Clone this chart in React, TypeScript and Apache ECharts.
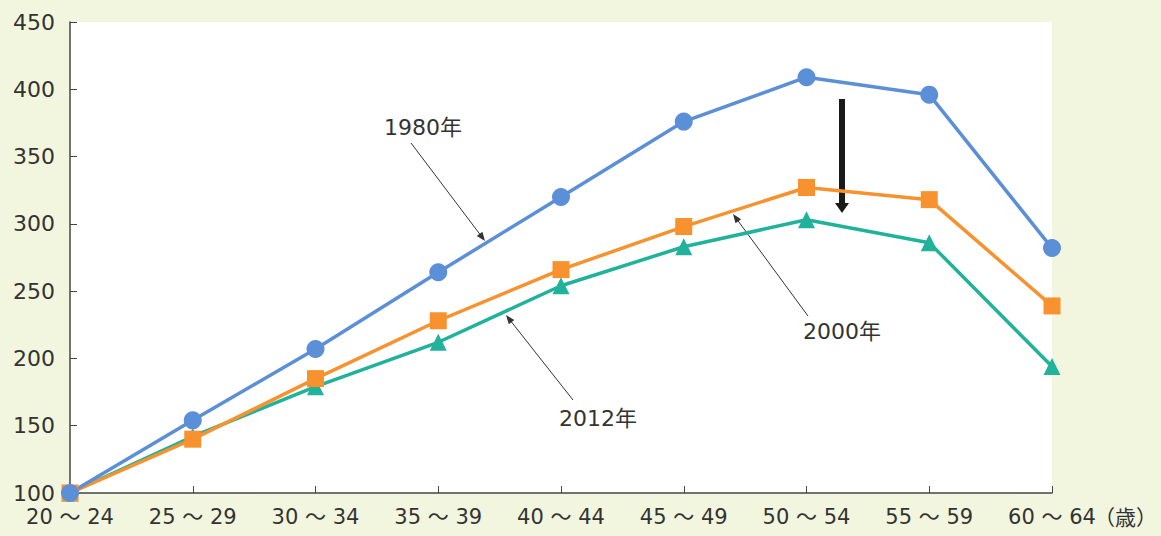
import React, { useEffect, useRef } from "react";
import * as echarts from "echarts";

const categories = ["20～24", "25～29", "30～34", "35～39", "40～44", "45～49", "50～54", "55～59", "60～64"];
const s1980 = [100, 154, 207, 264, 320, 376, 409, 396, 282];
const s2000 = [100, 140, 185, 228, 266, 298, 327, 318, 239];
const s2012 = [100, 142, 179, 212, 254, 283, 303, 286, 194];
const yTicks = { min: 100, max: 450, interval: 50 };

const FONT = "'DejaVu Sans', 'Noto Sans CJK JP', sans-serif";
const TXT = "#333333";

function arrow(x1: number, y1: number, x2: number, y2: number, color: string, lw: number, hl: number, hw: number) {
  const dx = x2 - x1, dy = y2 - y1;
  const len = Math.sqrt(dx * dx + dy * dy);
  const ux = dx / len, uy = dy / len;
  const bx = x2 - ux * hl, by = y2 - uy * hl;
  const px = -uy * hw, py = ux * hw;
  return [
    { type: "line", silent: true, shape: { x1, y1, x2: bx + ux * 1, y2: by + uy * 1 }, style: { stroke: color, lineWidth: lw } },
    { type: "polygon", silent: true, shape: { points: [[x2, y2], [bx + px, by + py], [bx - px, by - py]] }, style: { fill: color } },
  ];
}

function label(text: string, x: number, y: number) {
  return {
    type: "text",
    x,
    y,
    style: { text, fill: TXT, font: `22px ${FONT}`, textAlign: "center", textVerticalAlign: "middle" },
  };
}

export default function App() {
  const ref = useRef<HTMLDivElement>(null);
  useEffect(() => {
    document.body.style.margin = "0";
    const chart = echarts.init(ref.current!, undefined, { renderer: "svg" });
    const mk = (name: string, data: number[], color: string, symbol: string, size: number) => ({
      name,
      type: "line",
      data,
      symbol,
      symbolSize: size,
      lineStyle: { color, width: 3.5 },
      itemStyle: { color },
      z: 3,
    });
    chart.setOption({
      animation: false,
      backgroundColor: "#f2f6df",
      grid: { left: 70, right: 109, top: 22, bottom: 43, show: true, backgroundColor: "#ffffff", borderWidth: 0 },
      xAxis: {
        type: "category",
        data: categories,
        boundaryGap: false,
        axisLine: { lineStyle: { color: "#444", width: 1.5 } },
        axisTick: { inside: true, length: 7, lineStyle: { color: "#444" } },
        axisLabel: {
          color: TXT,
          fontSize: 21,
          fontFamily: FONT,
          margin: 13,
          formatter: (v: string) => v.replace("～", " ～ "),
        },
      },
      yAxis: {
        type: "value",
        min: yTicks.min,
        max: yTicks.max,
        interval: yTicks.interval,
        axisLine: { show: true, lineStyle: { color: "#444", width: 1.5 } },
        axisTick: { show: true, inside: true, length: 7, lineStyle: { color: "#444" } },
        splitLine: { show: false },
        axisLabel: { color: TXT, fontSize: 22, fontFamily: FONT, margin: 15 },
      },
      series: [
        mk("2012年", s2012, "#20b29a", "triangle", 17),
        mk("2000年", s2000, "#f7922f", "rect", 17),
        mk("1980年", s1980, "#5b8fd7", "circle", 18),
      ],
      graphic: [
        { type: "text", right: 4, top: 507, style: { text: "（歳）", fill: TXT, font: `21px ${FONT}` } },
        label("1980年", 423, 127),
        label("2000年", 842, 331),
        label("2012年", 598, 418),
        ...arrow(411, 143, 485, 241, "#333", 1, 9, 3.5),
        ...arrow(808, 316, 733, 214, "#333", 1, 9, 3.5),
        ...arrow(573, 400, 506, 315, "#333", 1, 9, 3.5),
        ...arrow(842, 99, 842, 213, "#1a1a1a", 6, 10, 7),
      ],
    });
    return () => chart.dispose();
  }, []);
  return <div ref={ref} style={{ width: 1161, height: 536 }} />;
}
